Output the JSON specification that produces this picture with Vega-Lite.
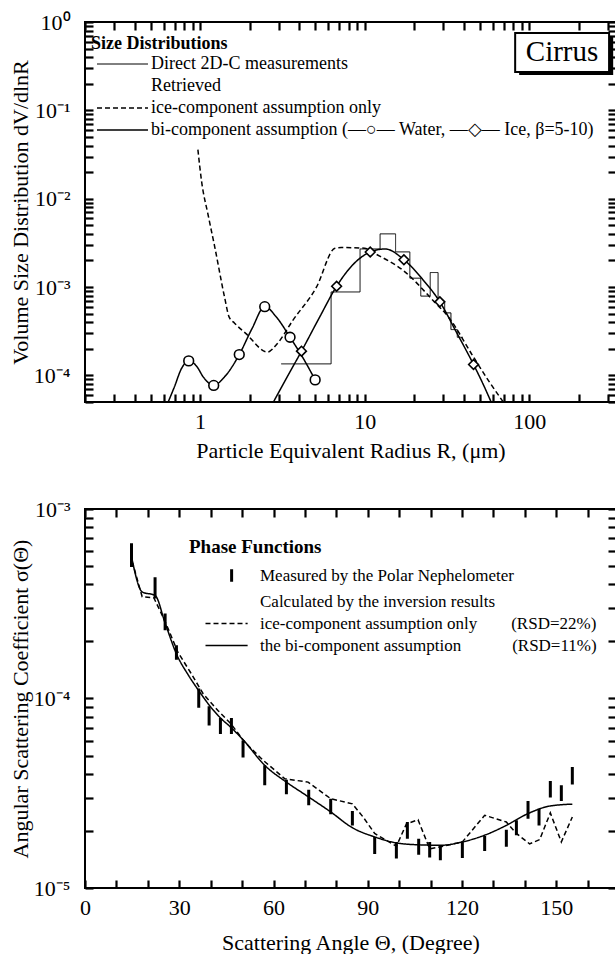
{
  "$schema": "https://vega.github.io/schema/vega-lite/v6.json",
  "background": "white",
  "padding": {"left": 8, "top": 10, "right": 2, "bottom": 0},
  "spacing": 35,
  "config": {
    "view": {"stroke": "black", "strokeWidth": 2},
    "axis": {
      "labelFont": "Liberation Serif", "titleFont": "Liberation Serif",
      "labelFontSize": 22, "titleFontSize": 22, "titleFontWeight": "normal",
      "labelColor": "black", "titleColor": "black", "tickColor": "black", "tickWidth": 2.2, "ticks": true,
      "domain": false, "grid": false, "labelOverlap": false, "labelFlush": false
    },
    "text": {"font": "Liberation Serif", "color": "black"}
  },
  "resolve": {"scale": {"strokeDash": "independent"}, "legend": {"strokeDash": "independent"}},
  "datasets": {
    "psd": [
      {"series": "direct", "component": "direct", "R": 3.11, "V": 0.000135},
      {"series": "direct", "component": "direct", "R": 6.25, "V": 0.00088},
      {"series": "direct", "component": "direct", "R": 9.37, "V": 0.0027},
      {"series": "direct", "component": "direct", "R": 12.4, "V": 0.004},
      {"series": "direct", "component": "direct", "R": 15.4, "V": 0.0025},
      {"series": "direct", "component": "direct", "R": 18.8, "V": 0.00126},
      {"series": "direct", "component": "direct", "R": 21.9, "V": 0.00079},
      {"series": "direct", "component": "direct", "R": 25.0, "V": 0.00146},
      {"series": "direct", "component": "direct", "R": 27.9, "V": 0.00068},
      {"series": "direct", "component": "direct", "R": 30.6, "V": 0.00051},
      {"series": "direct", "component": "direct", "R": 33.4, "V": 0.00033},
      {"series": "direct", "component": "direct", "R": 36.5, "V": 0.00027},
      {"series": "direct", "component": "direct", "R": 39.4, "V": 0.00027},
      {"series": "ice", "component": "ice-only", "R": 0.97, "V": 0.036},
      {"series": "ice", "component": "ice-only", "R": 1.02, "V": 0.016},
      {"series": "ice", "component": "ice-only", "R": 1.12, "V": 0.0065},
      {"series": "ice", "component": "ice-only", "R": 1.23, "V": 0.0028},
      {"series": "ice", "component": "ice-only", "R": 1.41, "V": 0.00076},
      {"series": "ice", "component": "ice-only", "R": 1.5, "V": 0.00046},
      {"series": "ice", "component": "ice-only", "R": 1.62, "V": 0.00039},
      {"series": "ice", "component": "ice-only", "R": 1.9, "V": 0.000297},
      {"series": "ice", "component": "ice-only", "R": 2.57, "V": 0.000184},
      {"series": "ice", "component": "ice-only", "R": 2.94, "V": 0.000228},
      {"series": "ice", "component": "ice-only", "R": 3.66, "V": 0.00042},
      {"series": "ice", "component": "ice-only", "R": 5.08, "V": 0.00099},
      {"series": "ice", "component": "ice-only", "R": 6.6, "V": 0.00275},
      {"series": "ice", "component": "ice-only", "R": 7.2, "V": 0.0028},
      {"series": "ice", "component": "ice-only", "R": 10.0, "V": 0.00275},
      {"series": "ice", "component": "ice-only", "R": 11.5, "V": 0.0024},
      {"series": "ice", "component": "ice-only", "R": 17.3, "V": 0.00152},
      {"series": "ice", "component": "ice-only", "R": 26.1, "V": 0.0007},
      {"series": "ice", "component": "ice-only", "R": 32.5, "V": 0.00045},
      {"series": "ice", "component": "ice-only", "R": 45.0, "V": 0.00017},
      {"series": "ice", "component": "ice-only", "R": 57.0, "V": 0.000085},
      {"series": "ice", "component": "ice-only", "R": 69.5, "V": 0.00005},
      {"series": "bi", "component": "Water", "R": 0.64, "V": 0.00005},
      {"series": "bi", "component": "Water", "R": 0.70, "V": 0.000075},
      {"series": "bi", "component": "Water", "R": 0.77, "V": 0.000119},
      {"series": "bi", "component": "Water", "R": 0.853, "V": 0.000146},
      {"series": "bi", "component": "Water", "R": 0.95, "V": 0.000128},
      {"series": "bi", "component": "Water", "R": 1.05, "V": 0.000095},
      {"series": "bi", "component": "Water", "R": 1.21, "V": 0.000077},
      {"series": "bi", "component": "Water", "R": 1.4, "V": 0.000095},
      {"series": "bi", "component": "Water", "R": 1.73, "V": 0.000172},
      {"series": "bi", "component": "Water", "R": 2.07, "V": 0.00034},
      {"series": "bi", "component": "Water", "R": 2.47, "V": 0.0006},
      {"series": "bi", "component": "Water", "R": 2.9, "V": 0.00046},
      {"series": "bi", "component": "Water", "R": 3.52, "V": 0.00027},
      {"series": "bi", "component": "Water", "R": 4.2, "V": 0.00016},
      {"series": "bi", "component": "Water", "R": 5.0, "V": 0.000089},
      {"series": "bi", "component": "Ice", "R": 2.79, "V": 0.00005},
      {"series": "bi", "component": "Ice", "R": 3.4, "V": 0.000098},
      {"series": "bi", "component": "Ice", "R": 4.13, "V": 0.000188},
      {"series": "bi", "component": "Ice", "R": 5.3, "V": 0.00045},
      {"series": "bi", "component": "Ice", "R": 6.75, "V": 0.00102},
      {"series": "bi", "component": "Ice", "R": 8.5, "V": 0.0018},
      {"series": "bi", "component": "Ice", "R": 10.8, "V": 0.00249},
      {"series": "bi", "component": "Ice", "R": 13.3, "V": 0.0027},
      {"series": "bi", "component": "Ice", "R": 17.3, "V": 0.00204},
      {"series": "bi", "component": "Ice", "R": 22.5, "V": 0.00122},
      {"series": "bi", "component": "Ice", "R": 28.6, "V": 0.00068},
      {"series": "bi", "component": "Ice", "R": 36.0, "V": 0.00031},
      {"series": "bi", "component": "Ice", "R": 45.8, "V": 0.000133},
      {"series": "bi", "component": "Ice", "R": 52.0, "V": 0.000082},
      {"series": "bi", "component": "Ice", "R": 58.6, "V": 0.00005}
    ],
    "markers": [
      {"component": "Water", "R": 0.853, "V": 0.000146},
      {"component": "Water", "R": 1.21, "V": 0.000077},
      {"component": "Water", "R": 1.73, "V": 0.000172},
      {"component": "Water", "R": 2.47, "V": 0.0006},
      {"component": "Water", "R": 3.52, "V": 0.00027},
      {"component": "Water", "R": 5.0, "V": 0.000089},
      {"component": "Ice", "R": 4.13, "V": 0.000188},
      {"component": "Ice", "R": 6.75, "V": 0.00102},
      {"component": "Ice", "R": 10.8, "V": 0.00249},
      {"component": "Ice", "R": 17.3, "V": 0.00204},
      {"component": "Ice", "R": 28.6, "V": 0.00068},
      {"component": "Ice", "R": 45.8, "V": 0.000133}
    ],
    "nephelometer": [
      {"series": "measured", "theta": 14.8, "lo": 0.000494, "hi": 0.00066},
      {"series": "measured", "theta": 22.3, "lo": 0.000337, "hi": 0.000437},
      {"series": "measured", "theta": 25.5, "lo": 0.000229, "hi": 0.000281},
      {"series": "measured", "theta": 29.1, "lo": 0.00016, "hi": 0.000191},
      {"series": "measured", "theta": 36.2, "lo": 0.0000893, "hi": 0.000113},
      {"series": "measured", "theta": 39.5, "lo": 0.000072, "hi": 0.000091},
      {"series": "measured", "theta": 43.1, "lo": 0.000065, "hi": 0.000079},
      {"series": "measured", "theta": 46.6, "lo": 0.000065, "hi": 0.000079},
      {"series": "measured", "theta": 50.3, "lo": 0.0000488, "hi": 0.00006},
      {"series": "measured", "theta": 57.2, "lo": 0.0000348, "hi": 0.0000444},
      {"series": "measured", "theta": 64.1, "lo": 0.0000312, "hi": 0.0000373},
      {"series": "measured", "theta": 71.2, "lo": 0.0000273, "hi": 0.000033},
      {"series": "measured", "theta": 78.2, "lo": 0.0000245, "hi": 0.0000296},
      {"series": "measured", "theta": 85.1, "lo": 0.0000214, "hi": 0.0000255},
      {"series": "measured", "theta": 92.2, "lo": 0.0000151, "hi": 0.0000186},
      {"series": "measured", "theta": 99.1, "lo": 0.0000143, "hi": 0.0000175},
      {"series": "measured", "theta": 102.6, "lo": 0.0000182, "hi": 0.0000223},
      {"series": "measured", "theta": 106.2, "lo": 0.000015, "hi": 0.0000182},
      {"series": "measured", "theta": 109.7, "lo": 0.0000145, "hi": 0.0000175},
      {"series": "measured", "theta": 113.1, "lo": 0.000014, "hi": 0.0000168},
      {"series": "measured", "theta": 120.1, "lo": 0.0000144, "hi": 0.0000176},
      {"series": "measured", "theta": 127.2, "lo": 0.0000157, "hi": 0.0000188},
      {"series": "measured", "theta": 134.1, "lo": 0.0000165, "hi": 0.0000203},
      {"series": "measured", "theta": 137.3, "lo": 0.000019, "hi": 0.0000228},
      {"series": "measured", "theta": 141.0, "lo": 0.0000232, "hi": 0.0000288},
      {"series": "measured", "theta": 144.5, "lo": 0.0000214, "hi": 0.0000262},
      {"series": "measured", "theta": 148.1, "lo": 0.00003, "hi": 0.0000367},
      {"series": "measured", "theta": 151.6, "lo": 0.0000288, "hi": 0.0000348},
      {"series": "measured", "theta": 155.1, "lo": 0.0000352, "hi": 0.0000435}
    ],
    "phase": [
      {"series": "ice", "theta": 15.0, "S": 0.00053},
      {"series": "ice", "theta": 18.2, "S": 0.000344},
      {"series": "ice", "theta": 21.9, "S": 0.00034},
      {"series": "ice", "theta": 25.5, "S": 0.000255},
      {"series": "ice", "theta": 29.6, "S": 0.000175},
      {"series": "ice", "theta": 33.5, "S": 0.000138},
      {"series": "ice", "theta": 37.6, "S": 0.000106},
      {"series": "ice", "theta": 42.3, "S": 0.0000865},
      {"series": "ice", "theta": 46.6, "S": 0.000073},
      {"series": "ice", "theta": 50.8, "S": 0.0000589},
      {"series": "ice", "theta": 56.7, "S": 0.0000472},
      {"series": "ice", "theta": 63.6, "S": 0.0000377},
      {"series": "ice", "theta": 71.0, "S": 0.0000362},
      {"series": "ice", "theta": 78.2, "S": 0.0000296},
      {"series": "ice", "theta": 85.1, "S": 0.0000278},
      {"series": "ice", "theta": 88.5, "S": 0.0000237},
      {"series": "ice", "theta": 92.2, "S": 0.0000194},
      {"series": "ice", "theta": 99.1, "S": 0.0000166},
      {"series": "ice", "theta": 102.3, "S": 0.0000218},
      {"series": "ice", "theta": 106.0, "S": 0.0000229},
      {"series": "ice", "theta": 109.7, "S": 0.0000161},
      {"series": "ice", "theta": 113.1, "S": 0.0000165},
      {"series": "ice", "theta": 120.1, "S": 0.0000175},
      {"series": "ice", "theta": 127.2, "S": 0.0000242},
      {"series": "ice", "theta": 134.1, "S": 0.0000223},
      {"series": "ice", "theta": 137.3, "S": 0.0000194},
      {"series": "ice", "theta": 141.5, "S": 0.0000171},
      {"series": "ice", "theta": 144.7, "S": 0.000018},
      {"series": "ice", "theta": 148.1, "S": 0.0000249},
      {"series": "ice", "theta": 151.6, "S": 0.0000175},
      {"series": "ice", "theta": 155.1, "S": 0.0000237},
      {"series": "bi", "theta": 14.8, "S": 0.00056},
      {"series": "bi", "theta": 18.2, "S": 0.000365},
      {"series": "bi", "theta": 22.3, "S": 0.00035},
      {"series": "bi", "theta": 25.5, "S": 0.00025},
      {"series": "bi", "theta": 29.1, "S": 0.000172},
      {"series": "bi", "theta": 33.0, "S": 0.000132},
      {"series": "bi", "theta": 36.2, "S": 0.00011},
      {"series": "bi", "theta": 39.6, "S": 0.000092},
      {"series": "bi", "theta": 43.1, "S": 0.000079},
      {"series": "bi", "theta": 46.6, "S": 0.00007},
      {"series": "bi", "theta": 50.3, "S": 0.0000606},
      {"series": "bi", "theta": 57.2, "S": 0.0000444},
      {"series": "bi", "theta": 64.1, "S": 0.0000362},
      {"series": "bi", "theta": 71.2, "S": 0.0000302},
      {"series": "bi", "theta": 78.2, "S": 0.0000252},
      {"series": "bi", "theta": 85.1, "S": 0.0000208},
      {"series": "bi", "theta": 92.2, "S": 0.0000186},
      {"series": "bi", "theta": 99.1, "S": 0.0000173},
      {"series": "bi", "theta": 106.2, "S": 0.0000169},
      {"series": "bi", "theta": 113.1, "S": 0.0000168},
      {"series": "bi", "theta": 120.1, "S": 0.0000175},
      {"series": "bi", "theta": 127.2, "S": 0.000019},
      {"series": "bi", "theta": 134.1, "S": 0.0000214},
      {"series": "bi", "theta": 141.0, "S": 0.0000247},
      {"series": "bi", "theta": 148.1, "S": 0.0000271},
      {"series": "bi", "theta": 155.1, "S": 0.0000277}
    ]
  },
  "vconcat": [
    {
      "width": 531,
      "height": 380,
      "resolve": {"axis": {"x": "independent", "y": "independent"}},
      "layer": [
        {
          "data": {"name": "psd"},
          "transform": [{"filter": "datum.series === 'direct'"}],
          "mark": {"type": "line", "interpolate": "step-after", "color": "black", "strokeWidth": 1, "clip": true},
          "encoding": {
            "x": {"field": "R", "type": "quantitative", "scale": {"type": "log", "domain": [0.2, 336], "nice": false},
              "axis": {"orient": "bottom", "title": "Particle Equivalent Radius R, (μm)",
                "values": [0.2,0.3,0.4,0.5,0.6,0.7,0.8,0.9,1,2,3,4,5,6,7,8,9,10,20,30,40,50,60,70,80,90,100,200,300],
                "labelExpr": "(datum.value == 1 || datum.value == 10 || datum.value == 100) ? '' + datum.value : ''",
                "tickSize": -8, "labelPadding": 17, "titlePadding": 8}},
            "y": {"field": "V", "type": "quantitative", "scale": {"type": "log", "domain": [0.00005, 1], "nice": false},
              "axis": {"orient": "left", "title": "Volume Size Distribution dV/dlnR",
                "values": [0.00005,0.00006,0.00007,0.00008,0.00009,0.0001,0.0002,0.0003,0.0004,0.0005,0.0006,0.0007,0.0008,0.0009,0.001,0.002,0.003,0.004,0.005,0.006,0.007,0.008,0.009,0.01,0.02,0.03,0.04,0.05,0.06,0.07,0.08,0.09,0.1,0.2,0.3,0.4,0.5,0.6,0.7,0.8,0.9,1],
                "labelExpr": "abs(log(datum.value)/LN10 - round(log(datum.value)/LN10)) < 0.001 ? '10' + ['⁰','⁻¹','⁻²','⁻³','⁻⁴','⁻⁵'][-round(log(datum.value)/LN10)] : ''",
                "tickSize": -8, "labelPadding": 23, "titlePadding": 3, "minExtent": 50, "maxExtent": 50}},
            "strokeDash": {"field": "series", "type": "nominal",
              "scale": {"domain": ["direct", "retrieved", "ice", "bi"], "range": [[1, 0], [1, 0], [5, 3], [1, 0]]},
              "legend": {
                "title": "Size Distributions", "orient": "none", "legendX": 3, "legendY": 13,
                "titleFont": "Liberation Serif", "titleFontSize": 18, "titleFontWeight": "bold", "titleColor": "black", "titlePadding": 2,
                "labelFont": "Liberation Serif", "labelFontSize": 18, "labelColor": "black", "labelOffset": 45, "labelLimit": 700,
                "labelExpr": "datum.value == 'direct' ? 'Direct 2D-C measurements' : datum.value == 'retrieved' ? 'Retrieved' : datum.value == 'ice' ? 'ice-component assumption only' : 'bi-component assumption (—○— Water, —◇— Ice, β=5-10)'",
                "symbolType": "M0,0H10", "symbolSize": 104, "symbolStrokeColor": "black", "symbolStrokeWidth": 1.4, "rowPadding": 4,
                "encode": {
                  "title": {"update": {"dx": {"value": 3}}},
                  "symbols": {"update": {
                    "opacity": {"signal": "datum.value == 'retrieved' ? 0 : 1"},
                    "strokeWidth": {"signal": "datum.value == 'direct' ? 1 : 1.4"}}}}
              }}
          }
        },
        {
          "data": {"name": "psd"},
          "transform": [{"filter": "datum.series === 'ice'"}],
          "mark": {"type": "line", "interpolate": "monotone", "color": "black", "strokeWidth": 1.5, "clip": true},
          "encoding": {
            "x": {"field": "R", "type": "quantitative", "scale": {"type": "log", "domain": [0.2, 336], "nice": false},
              "axis": {"orient": "top", "title": null, "labels": false,
                "values": [0.2,0.3,0.4,0.5,0.6,0.7,0.8,0.9,1,2,3,4,5,6,7,8,9,10,20,30,40,50,60,70,80,90,100,200,300],
                "tickSize": -8, "minExtent": 0, "maxExtent": 0}},
            "y": {"field": "V", "type": "quantitative", "scale": {"type": "log", "domain": [0.00005, 1], "nice": false},
              "axis": {"orient": "right", "title": null, "labels": false,
                "values": [0.00005,0.00006,0.00007,0.00008,0.00009,0.0001,0.0002,0.0003,0.0004,0.0005,0.0006,0.0007,0.0008,0.0009,0.001,0.002,0.003,0.004,0.005,0.006,0.007,0.008,0.009,0.01,0.02,0.03,0.04,0.05,0.06,0.07,0.08,0.09,0.1,0.2,0.3,0.4,0.5,0.6,0.7,0.8,0.9,1],
                "tickSize": -8, "minExtent": 0, "maxExtent": 0}},
            "strokeDash": {"field": "series", "type": "nominal"}
          }
        },
        {
          "data": {"name": "psd"},
          "transform": [{"filter": "datum.series === 'bi'"}],
          "mark": {"type": "line", "interpolate": "monotone", "color": "black", "strokeWidth": 1.5, "clip": true},
          "encoding": {
            "x": {"field": "R", "type": "quantitative", "axis": null},
            "y": {"field": "V", "type": "quantitative", "axis": null},
            "detail": {"field": "component"},
            "strokeDash": {"field": "series", "type": "nominal"}
          }
        },
        {
          "data": {"name": "markers"},
          "mark": {"type": "point", "filled": true, "fill": "white", "stroke": "black", "strokeWidth": 1.6, "size": 95, "opacity": 1},
          "encoding": {
            "x": {"field": "R", "type": "quantitative", "axis": null},
            "y": {"field": "V", "type": "quantitative", "axis": null},
            "shape": {"field": "component", "type": "nominal", "scale": {"domain": ["Water", "Ice"], "range": ["circle", "diamond"]}, "legend": null}
          }
        },
        {
          "data": {"values": [{}]},
          "mark": {"type": "rect", "fill": "black"},
          "encoding": {
            "x": {"datum": 86.7, "type": "quantitative", "axis": null},
            "x2": {"datum": 323},
            "y": {"datum": 0.693, "type": "quantitative", "axis": null},
            "y2": {"datum": 0.251}
          }
        },
        {
          "data": {"values": [{}]},
          "mark": {"type": "rect", "fill": "white", "stroke": "black", "strokeWidth": 2},
          "encoding": {
            "x": {"datum": 82, "type": "quantitative", "axis": null},
            "x2": {"datum": 305},
            "y": {"datum": 0.75, "type": "quantitative", "axis": null},
            "y2": {"datum": 0.272}
          }
        },
        {
          "data": {"values": [{}]},
          "mark": {"type": "text", "text": "Cirrus", "fontSize": 29, "font": "Liberation Serif", "align": "center", "baseline": "middle"},
          "encoding": {
            "x": {"datum": 158, "type": "quantitative", "axis": null},
            "y": {"datum": 0.452, "type": "quantitative", "axis": null}
          }
        }
      ]
    },
    {
      "width": 531,
      "height": 379,
      "resolve": {"axis": {"x": "independent", "y": "independent"}},
      "layer": [
        {
          "data": {"name": "nephelometer"},
          "mark": {"type": "rule", "color": "black", "strokeWidth": 3, "clip": true},
          "encoding": {
            "x": {"field": "theta", "type": "quantitative", "scale": {"domain": [0, 169], "nice": false, "zero": false},
              "axis": {"orient": "bottom", "title": "Scattering Angle Θ, (Degree)",
                "values": [0,10,20,30,40,50,60,70,80,90,100,110,120,130,140,150,160],
                "labelExpr": "datum.value % 30 == 0 ? '' + datum.value : ''",
                "tickSize": -8, "labelPadding": 17, "titlePadding": 14}},
            "y": {"field": "lo", "type": "quantitative", "scale": {"type": "log", "domain": [0.00001, 0.001], "nice": false},
              "axis": {"orient": "left", "title": "Angular Scattering Coefficient  σ(Θ)",
                "values": [0.00001,0.00002,0.00003,0.00004,0.00005,0.00006,0.00007,0.00008,0.00009,0.0001,0.0002,0.0003,0.0004,0.0005,0.0006,0.0007,0.0008,0.0009,0.001],
                "labelExpr": "abs(log(datum.value)/LN10 - round(log(datum.value)/LN10)) < 0.001 ? '10' + ['⁰','⁻¹','⁻²','⁻³','⁻⁴','⁻⁵'][-round(log(datum.value)/LN10)] : ''",
                "tickSize": -8, "labelPadding": 23, "titlePadding": 3, "minExtent": 50, "maxExtent": 50}},
            "y2": {"field": "hi"},
            "strokeDash": {"field": "series", "type": "nominal",
              "scale": {"domain": ["measured", "calculated", "ice", "bi"], "range": [[1, 0], [1, 0], [5, 3], [1, 0]]},
              "legend": {
                "title": "Phase Functions", "orient": "none", "legendX": 104, "legendY": 29,
                "titleFont": "Liberation Serif", "titleFontSize": 19, "titleFontWeight": "bold", "titleColor": "black", "titlePadding": 10,
                "labelFont": "Liberation Serif", "labelFontSize": 17, "labelColor": "black", "labelOffset": 46, "labelLimit": 700,
                "labelExpr": "datum.value == 'measured' ? 'Measured by the Polar Nephelometer' : datum.value == 'calculated' ? 'Calculated by the inversion results' : datum.value == 'ice' ? 'ice-component assumption only\u2003\u2003(RSD=22%)' : 'the bi-component assumption\u2003\u2003\u2003(RSD=11%)'",
                "symbolType": "M0,0H10", "symbolSize": 71, "symbolStrokeColor": "black", "symbolStrokeWidth": 1.4, "rowPadding": 4,
                "encode": {
                  "title": {"update": {"dx": {"value": -8}}},
                  "symbols": {"update": {
                    "shape": {"signal": "datum.value == 'measured' ? 'M6.2,-1.5V1.5' : 'M0,0H10'"},
                    "strokeWidth": {"signal": "datum.value == 'measured' ? 3 : 1.4"},
                    "opacity": {"signal": "datum.value == 'calculated' ? 0 : 1"}}}}
              }}
          }
        },
        {
          "data": {"name": "phase"},
          "transform": [{"filter": "datum.series === 'ice'"}],
          "mark": {"type": "line", "interpolate": "linear", "color": "black", "strokeWidth": 1.5, "clip": true},
          "encoding": {
            "x": {"field": "theta", "type": "quantitative", "scale": {"domain": [0, 169], "nice": false, "zero": false},
              "axis": {"orient": "top", "title": null, "labels": false,
                "values": [0,10,20,30,40,50,60,70,80,90,100,110,120,130,140,150,160],
                "tickSize": -8, "minExtent": 0, "maxExtent": 0}},
            "y": {"field": "S", "type": "quantitative", "scale": {"type": "log", "domain": [0.00001, 0.001], "nice": false},
              "axis": {"orient": "right", "title": null, "labels": false,
                "values": [0.00001,0.00002,0.00003,0.00004,0.00005,0.00006,0.00007,0.00008,0.00009,0.0001,0.0002,0.0003,0.0004,0.0005,0.0006,0.0007,0.0008,0.0009,0.001],
                "tickSize": -8, "minExtent": 0, "maxExtent": 0}},
            "strokeDash": {"field": "series", "type": "nominal"}
          }
        },
        {
          "data": {"name": "phase"},
          "transform": [{"filter": "datum.series === 'bi'"}],
          "mark": {"type": "line", "interpolate": "monotone", "color": "black", "strokeWidth": 1.5, "clip": true},
          "encoding": {
            "x": {"field": "theta", "type": "quantitative", "axis": null},
            "y": {"field": "S", "type": "quantitative", "axis": null},
            "strokeDash": {"field": "series", "type": "nominal"}
          }
        }
      ]
    }
  ]
}
